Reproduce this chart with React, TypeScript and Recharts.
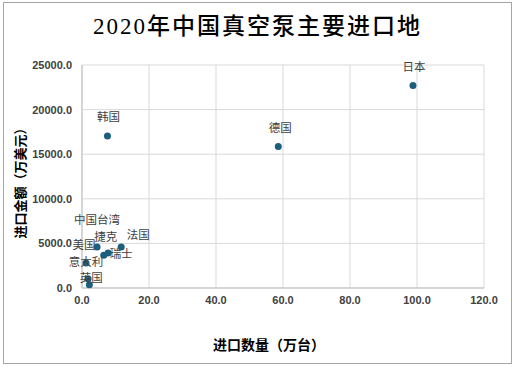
import { ScatterChart, Scatter, XAxis, YAxis, CartesianGrid } from "recharts"

// import volume (10k units) vs import value (10k USD), 2020
const names = ["日本", "韩国", "德国", "中国台湾", "美国", "捷克", "瑞士", "法国", "意大利", "英国"]
const volume = [98.8, 7.6, 58.6, 4.5, 1.2, 6.5, 7.8, 11.7, 1.8, 2.2]
const amount = [22700, 17050, 15850, 4600, 2800, 3670, 3920, 4600, 1040, 370]

const xTicks = [0, 20, 40, 60, 80, 100, 120]
const yTicks = [0, 5000, 10000, 15000, 20000, 25000]

// where each data label sits relative to its dot
const labelOffset: Record<string, [number, number]> = {
  日本: [1, -20],
  韩国: [1, -20],
  德国: [2, -20],
  中国台湾: [0, -28],
  美国: [-2, -19],
  捷克: [2, -19],
  瑞士: [13, 0],
  法国: [17, -13],
  意大利: [-2, -18],
  英国: [2, -8],
}

const data = names.map((name, i) => ({ name, x: volume[i], y: amount[i] }))

const DOT = "#1c5f7c"
const FONT = "'Noto Sans CJK SC', 'Liberation Sans', sans-serif"

function Dot(props: any) {
  const { cx, cy, payload } = props
  const [dx, dy] = labelOffset[payload.name] || [0, -20]
  return (
    <g>
      <circle cx={cx} cy={cy} r={3.5} fill={DOT} />
      <text
        x={cx + dx}
        y={cy + dy}
        textAnchor="middle"
        dominantBaseline="central"
        fontSize={11.5}
        fontFamily={FONT}
        fill="#404040"
      >
        {payload.name}
      </text>
    </g>
  )
}

export default function App() {
  return (
    <div style={{ position: "absolute", left: 0, top: 0, width: 515, height: 367, background: "#fff" }}>
      {/* chart frame */}
      <div
        style={{
          position: "absolute",
          left: 3,
          top: 2,
          width: 507,
          height: 360,
          border: "1px solid #a6a6a6",
        }}
      />
      <div
        style={{
          position: "absolute",
          left: 0,
          top: 12,
          width: 515,
          textAlign: "center",
          fontFamily: "'Liberation Serif', 'Noto Sans CJK SC', serif",
          fontSize: 23,
          letterSpacing: 2,
          fontWeight: 500,
          lineHeight: "30px",
          color: "#000",
        }}
      >
        2020年中国真空泵主要进口地
      </div>

      <ScatterChart width={515} height={367} margin={{ top: 65, right: 31, bottom: 49, left: 0 }}>
        <CartesianGrid stroke="#d9d9d9" />
        <XAxis
          type="number"
          dataKey="x"
          domain={[0, 120]}
          ticks={xTicks}
          tickFormatter={(v: number) => v.toFixed(1)}
          tickLine={false}
          axisLine={{ stroke: "#bfbfbf" }}
          height={30}
          tick={{ fontSize: 11, fontWeight: "bold", fill: "#404040", fontFamily: "'Liberation Sans', sans-serif" }}
        />
        <YAxis
          type="number"
          dataKey="y"
          domain={[0, 25000]}
          ticks={yTicks}
          tickFormatter={(v: number) => v.toFixed(1)}
          tickLine={false}
          axisLine={{ stroke: "#bfbfbf" }}
          width={82}
          tickMargin={4}
          tick={{ fontSize: 11, fontWeight: "bold", fill: "#404040", fontFamily: "'Liberation Sans', sans-serif" }}
        />
        <Scatter data={data} shape={Dot} isAnimationActive={false} />
      </ScatterChart>

      <div
        style={{
          position: "absolute",
          left: 20 - 60,
          top: 180 - 8,
          width: 120,
          height: 16,
          lineHeight: "16px",
          textAlign: "center",
          transform: "rotate(-90deg)",
          fontFamily: FONT,
          fontSize: 13,
          fontWeight: "bold",
          color: "#000",
        }}
      >
        进口金额（万美元）
      </div>
      <div
        style={{
          position: "absolute",
          left: 269 - 80,
          top: 344 - 9,
          width: 160,
          lineHeight: "18px",
          textAlign: "center",
          fontFamily: FONT,
          fontSize: 14,
          fontWeight: "bold",
          color: "#000",
        }}
      >
        进口数量（万台）
      </div>
    </div>
  )
}
